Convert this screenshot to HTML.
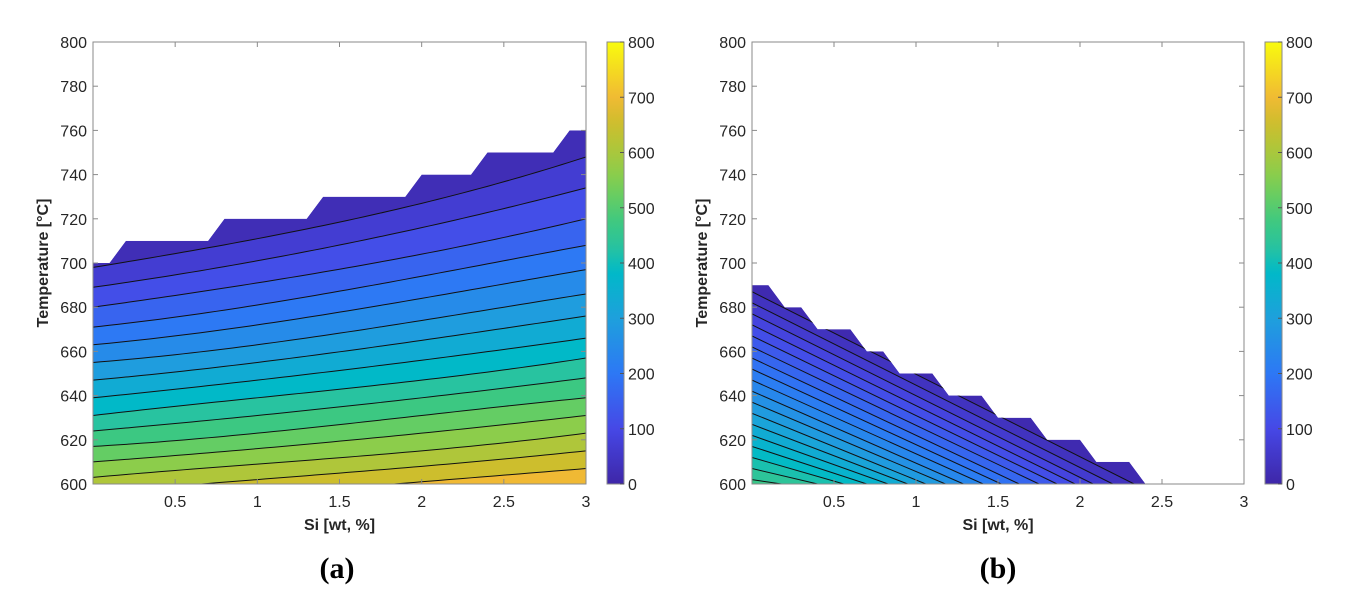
<!DOCTYPE html>
<html><head><meta charset="utf-8">
<style>
body{margin:0;background:#fff;width:1351px;height:609px;overflow:hidden}
svg{display:block}
text{font-family:"Liberation Sans",Arial,sans-serif}
text.cap{font-family:"Liberation Serif",serif}
</style></head>
<body>
<svg id="fig" width="1351" height="609" viewBox="0 0 1351 609"></svg>
<script>
// ---- Data: panel (a) ----
const aSiSamples = [0, 1, 2, 3];
const aLevels = [45,90,135,180,225,270,315,360,405,450,495,540,585,630,675];
const aLineTemps = [
 [698,711,727,748],[689,701,716,734],[680,691,704,720],[671,681,694,708],
 [663,672,684,697],[655,663,674,686],[647,655,665,676],[639,647,656,666],
 [631,639,647,657],[624,631,639,648],[617,623,631,639],[610,616,623,631],
 [603,609,615,623],[596,602,608,615],[589,595,601,607]];
const aBoundSi = [0,0.1,0.2,0.7,0.8,1.3,1.4,1.9,2.0,2.3,2.4,2.8,2.9,3.0];
const aBoundT  = [700,700,710,710,720,720,730,730,740,740,750,750,760,760];
// ---- Data: panel (b) ----
const bLevels = [25,50,75,100,125,150,175,200,225,250,275,300,325,350,375,400,425,450];
const bLeftT = [687,682,677,672,667,662,657,652,647,642,637,632,627,622,617,612,607,602];
const bBottomSi = [2.33,2.2,2.08,1.97,1.86,1.75,1.63,1.52,1.41,1.29,1.18,1.06,0.95,0.83,0.70,0.56,0.40,0.18];
const bBoundSi = [0,0.1,0.2,0.3,0.4,0.6,0.7,0.8,0.9,1.1,1.2,1.4,1.5,1.7,1.8,2.0,2.1,2.3,2.4];
const bBoundT  = [690,690,680,680,670,670,660,660,650,650,640,640,630,630,620,620,610,610,600];
// ticks
const xTicks = [0.5,1,1.5,2,2.5,3];
const yTicks = [600,620,640,660,680,700,720,740,760,780,800];
const cTicks = [0,100,200,300,400,500,600,700,800];

const NS="http://www.w3.org/2000/svg";
const svg=document.getElementById('fig');
function el(tag,attrs,parent){const e=document.createElementNS(NS,tag);for(const k in attrs)e.setAttribute(k,attrs[k]);(parent||svg).appendChild(e);return e;}

const stops=[[0,62,38,168],[0.125,70,72,230],[0.25,45,120,245],[0.375,30,160,220],[0.48,0,185,200],[0.534,40,195,160],[0.59,60,200,130],[0.647,100,205,100],[0.703,140,205,75],[0.759,175,198,58],[0.816,205,190,45],[0.872,240,185,52],[1,249,251,14]];
function parula(t){t=Math.max(0,Math.min(1,t));for(let i=1;i<stops.length;i++){if(t<=stops[i][0]){const a=stops[i-1],b=stops[i],f=(t-a[0])/(b[0]-a[0]);return `rgb(${Math.round(a[1]+f*(b[1]-a[1]))},${Math.round(a[2]+f*(b[2]-a[2]))},${Math.round(a[3]+f*(b[3]-a[3]))})`;}}return 'rgb(249,251,14)';}
function lagr(xs,ys,x){let s=0;for(let i=0;i<xs.length;i++){let p=ys[i];for(let j=0;j<xs.length;j++)if(j!==i)p*=(x-xs[j])/(xs[i]-xs[j]);s+=p;}return s;}

function axes(x0,x1,y0,y1){
  return {sx:v=>x0+(v/3)*(x1-x0), sy:t=>y1-(t-600)/200*(y1-y0), x0,x1,y0,y1};
}

function frame(ax,id,cbx,caption,capx){
  const g=el('g',{});  
  el('rect',{x:ax.x0,y:ax.y0,width:ax.x1-ax.x0,height:ax.y1-ax.y0,fill:'none',stroke:'#8a8a8a','stroke-width':1},g);
  xTicks.forEach(v=>{const x=ax.sx(v);
    el('line',{x1:x,x2:x,y1:ax.y1,y2:ax.y1-5,stroke:'#8a8a8a'},g);
    el('line',{x1:x,x2:x,y1:ax.y0,y2:ax.y0+5,stroke:'#8a8a8a'},g);
    const t=el('text',{x:x,y:ax.y1+23,'text-anchor':'middle','font-size':16,fill:'#262626'},g);t.textContent=v;
     });
  yTicks.forEach(v=>{const y=ax.sy(v);
    el('line',{x1:ax.x0,x2:ax.x0+5,y1:y,y2:y,stroke:'#8a8a8a'},g);
    el('line',{x1:ax.x1,x2:ax.x1-5,y1:y,y2:y,stroke:'#8a8a8a'},g);
    const t=el('text',{x:ax.x0-6,y:y+6,'text-anchor':'end','font-size':16,fill:'#262626'},g);t.textContent=v;
     });
  const xl=el('text',{x:(ax.x0+ax.x1)/2,y:530,'text-anchor':'middle','font-size':16,'font-weight':'bold',fill:'#262626'});xl.textContent='Si [wt, %]';
   
  const yl=el('text',{x:0,y:0,'text-anchor':'middle','font-size':16,'font-weight':'bold',fill:'#262626',transform:`translate(${ax.x0-45},${(ax.y0+ax.y1)/2}) rotate(-90)`});yl.textContent='Temperature [°C]';
   
  const gid='grad'+id;
  const lg=el('linearGradient',{id:gid,x1:0,y1:1,x2:0,y2:0});
  for(let i=0;i<=40;i++)el('stop',{offset:i/40,'stop-color':parula(i/40)},lg);
  const cb=el('rect',{x:cbx,y:ax.y0,width:17,height:ax.y1-ax.y0,fill:`url(#${gid})`,stroke:'#8a8a8a'});
   
  cTicks.forEach(v=>{const y=ax.y1-v/800*(ax.y1-ax.y0);
    el('line',{x1:cbx+13,x2:cbx+17,y1:y,y2:y,stroke:'#555'});
    const t=el('text',{x:cbx+21,y:y+6,'font-size':16,fill:'#262626'});t.textContent=v;
     });
  const c=el('text',{x:capx,y:578,'text-anchor':'middle','font-size':30,'font-weight':'bold',fill:'#000','class':'cap'});c.textContent=caption;
   
}

function clipDef(ax,id,bs,bt){
  const cp=el('clipPath',{id:'clip'+id});
  let pts=bs.map((s,i)=>ax.sx(s)+','+ax.sy(bt[i]));
  pts.push(ax.sx(bs[bs.length-1])+','+ax.sy(600), ax.sx(0)+','+ax.sy(600));
  el('polygon',{points:pts.join(' ')},cp);
  return pts.join(' ');
}

// ---- Panel (a) ----
const A=axes(93,586,42,484);
const polyA=clipDef(A,'a',aBoundSi,aBoundT);
const gA=el('g',{'clip-path':'url(#clipa)'});
 
el('polygon',{points:polyA,fill:parula(aLevels[0]/2/800)},gA);
function aLinePts(k){const p=[];for(let i=0;i<=60;i++){const s=3*i/60;p.push([A.sx(s),A.sy(lagr(aSiSamples,aLineTemps[k],s))]);}return p;}
aLevels.forEach((lv,k)=>{
  const next=k+1<aLevels.length?aLevels[k+1]:lv+45;
  const p=aLinePts(k);
  const pts=p.map(q=>q.join(',')).concat([A.sx(3)+','+(A.y1+50),A.sx(0)+','+(A.y1+50)]);
  const band=el('polygon',{points:pts.join(' '),fill:parula((lv+next)/2/800)},gA);
   
});
aLevels.forEach((lv,k)=>{
  const p=aLinePts(k);
  const ln=el('polyline',{points:p.map(q=>q.join(',')).join(' '),fill:'none',stroke:'#111','stroke-width':1},gA);
   
});
frame(A,'a',607,'(a)',337);

// ---- Panel (b) ----
const B=axes(752,1244,42,484);
const polyB=clipDef(B,'b',bBoundSi,bBoundT);
const gB=el('g',{'clip-path':'url(#clipb)'});
 
el('polygon',{points:polyB,fill:parula(bLevels[0]/2/800)},gB);
bLevels.forEach((lv,k)=>{
  const next=k+1<bLevels.length?bLevels[k+1]:lv+25;
  const pts=[[B.sx(0),B.sy(bLeftT[k])],[B.sx(bBottomSi[k]),B.sy(600)],[B.sx(0),B.sy(600)]];
  const band=el('polygon',{points:pts.map(q=>q.join(',')).join(' '),fill:parula((lv+next)/2/800)},gB);
   
});
bLevels.forEach((lv,k)=>{
  const ln=el('line',{x1:B.sx(0),y1:B.sy(bLeftT[k]),x2:B.sx(bBottomSi[k]),y2:B.sy(600),stroke:'#111','stroke-width':1},gB);
   
});
frame(B,'b',1265,'(b)',998);
</script>
</body></html>
